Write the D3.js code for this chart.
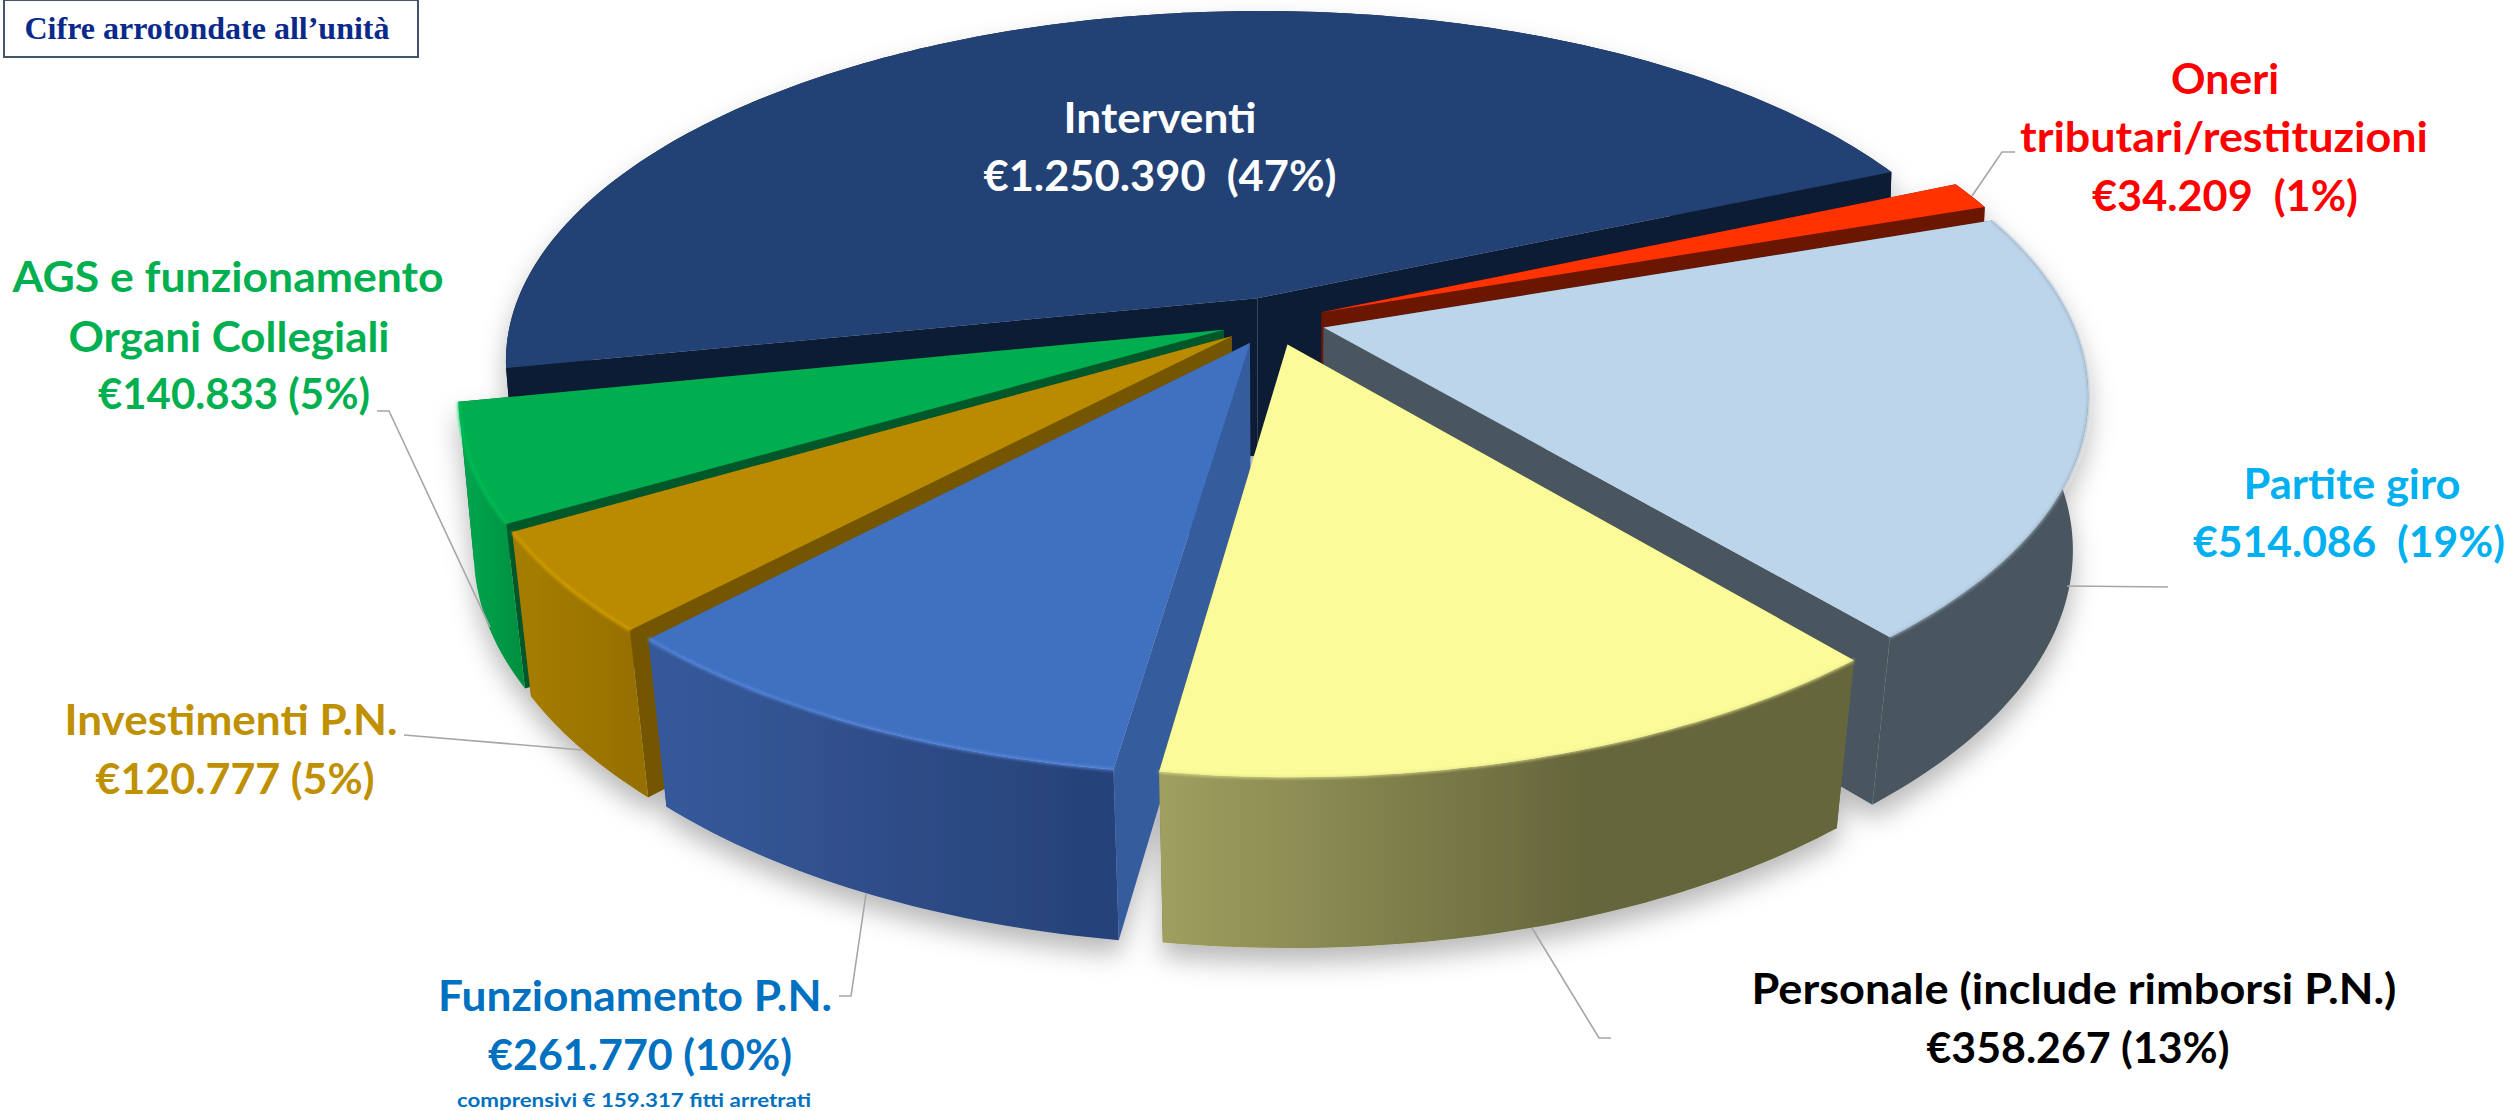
<!DOCTYPE html>
<html>
<head>
<meta charset="utf-8">
<script src="https://cdnjs.cloudflare.com/ajax/libs/d3/7.8.5/d3.min.js"></script>
<style>
  body { margin: 0; background: #fff; }
  text { font-family: Lato, "Noto Sans", sans-serif; font-weight: 700; white-space: pre; text-anchor: middle; }
</style>
</head>
<body>
<div id="chart"></div>
<script>
// data
var categories = ["Interventi", "Oneri tributari/restituzioni", "Partite giro", "Personale (include rimborsi P.N.)", "Funzionamento P.N.", "Investimenti P.N.", "AGS e funzionamento Organi Collegiali"]
var values = [1250390, 34209, 514086, 358267, 261770, 120777, 140833]

// colours, same order as categories
var topColors = ["#244275", "#ff3300", "#bcd5ea", "#fbfb99", "#4170c0", "#ba8b00", "#00ae4f"]
var cutColors = ["#101d36", "#6a1500", "#4a5760", "#66663c", "#355d9e", "#745700", "#00592a"]
var wallFrom = ["#101d36", "#6a1500", "#4a5760", "#9f9f60", "#36599a", "#a47c00", "#00a34c"]
var wallTo = ["#101d36", "#6a1500", "#4a5760", "#66663c", "#28437a", "#967000", "#009040"]
var wallStop = [1, 1, 1, 0.62, 0.9, 0.9, 0.9]
var rimColors = [null, null, "#a3b7ca", "#e8e88e", "#5f90e8", "#e0a800", "#00c85c"]
var textColors = ["#ffffff", "#ff0000", "#00b0f0", "#000000", "#0070c0", "#bf9000", "#00b050"]

// painter order, back to front
var drawOrder = [0, 1, 6, 5, 2, 4, 3]

var width = 2517
var height = 1111

// camera of the 3D pie
var cx = 1273
var cy = 321
var radius = 748
var tilt = 0.4625
var persp = 0.1786
var explode = 0.07
var taper = 0.028

var euro = d3.formatLocale({ decimal: ",", thousands: ".", grouping: [3], currency: ["€", ""] }).format("$,")
var total = d3.sum(values)
function money(i) { return euro(values[i]) }
function pct(i) { return "(" + Math.round(values[i] / total * 100) + "%)" }

var pie = d3.pie().sort(null).startAngle(-101.5 * Math.PI / 180).endAngle((360 - 101.5) * Math.PI / 180)
var arcs = pie(values)

// world (u, v) on the pie plane, z 0 = top face, 1 = bottom face
function project(u, v, z) {
  var w = 1 - persp * v
  return [
    cx + radius * u / w * (1 - taper * (0.55 + 0.6 * v) * z),
    cy + radius * tilt * v / w + z * (158 + 12 * v)
  ]
}

function slicePoint(d, r, a, z) {
  var mid = (d.startAngle + d.endAngle) / 2
  var u = explode * Math.sin(mid) + r * Math.sin(a)
  var v = -explode * Math.cos(mid) - r * Math.cos(a)
  return project(u, v, z)
}

function arcPoints(d, z) {
  var n = Math.ceil((d.endAngle - d.startAngle) * 60)
  return d3.range(n + 1).map(function(i) {
    var a = d.startAngle + (d.endAngle - d.startAngle) * i / n
    return slicePoint(d, 1, a, z)
  })
}

var line = d3.line()
var svg = d3.select("#chart").append("svg").attr("width", width).attr("height", height)
var defs = svg.append("defs")

var shadow = defs.append("filter").attr("id", "shadow").attr("filterUnits", "userSpaceOnUse")
  .attr("x", 0).attr("y", 0).attr("width", width).attr("height", height)
shadow.append("feDropShadow").attr("dx", 0).attr("dy", 14).attr("stdDeviation", 13)
  .attr("flood-color", "#000").attr("flood-opacity", 0.28)

var blur = defs.append("filter").attr("id", "soft")
  .attr("filterUnits", "userSpaceOnUse").attr("x", 0).attr("y", 0).attr("width", width).attr("height", height)
blur.append("feGaussianBlur").attr("stdDeviation", 1.6)

arcs.forEach(function(d, i) {
  var pts = arcPoints(d, 1)
  var grad = defs.append("linearGradient").attr("id", "wall" + i).attr("gradientUnits", "userSpaceOnUse")
    .attr("x1", d3.min(pts, function(p) { return p[0] })).attr("x2", d3.max(pts, function(p) { return p[0] }))
    .attr("y1", 0).attr("y2", 0)
  grad.append("stop").attr("offset", 0).attr("stop-color", wallFrom[i])
  grad.append("stop").attr("offset", wallStop[i]).attr("stop-color", wallTo[i])
})

var pieGroup = svg.append("g").attr("filter", "url(#shadow)")

drawOrder.forEach(function(i) {
  var d = arcs[i]
  var g = pieGroup.append("g").attr("class", "slice")
  var topArc = arcPoints(d, 0)
  var botArc = arcPoints(d, 1)
  var apexTop = slicePoint(d, 0, 0, 0)
  var apexBot = slicePoint(d, 0, 0, 1)

  // cut faces
  g.append("path").attr("fill", cutColors[i])
    .attr("d", line([apexTop, topArc[0], botArc[0], apexBot]) + "Z")
  g.append("path").attr("fill", cutColors[i])
    .attr("d", line([apexTop, topArc[topArc.length - 1], botArc[botArc.length - 1], apexBot]) + "Z")
  // outer wall
  g.append("path").attr("fill", "url(#wall" + i + ")")
    .attr("d", line(topArc.concat(botArc.slice().reverse())) + "Z")
  // top face
  g.append("path").attr("fill", topColors[i])
    .attr("d", line([apexTop].concat(topArc)) + "Z")
  if (rimColors[i]) {
    g.append("path").attr("fill", "none").attr("stroke", rimColors[i]).attr("stroke-width", 2)
      .attr("filter", "url(#soft)").attr("d", line(topArc))
  }
})

// leader lines
var leaders = [
  [[2015, 152], [2002, 152], [1972, 196]],
  [[2168, 587], [2067, 586]],
  [[1532, 928], [1599, 1038], [1611, 1038]],
  [[866, 894], [851, 996], [839, 996]],
  [[404, 735], [583, 750]],
  [[377, 411], [389, 411], [490, 627]]
]
svg.append("g").selectAll("path").data(leaders).enter().append("path")
  .attr("fill", "none").attr("stroke", "#a6a6a6").attr("stroke-width", 1.6)
  .attr("d", function(d) { return line(d) })

// labels: x, baseline, text, width on the page
var labels = [
  { i: 0, lines: [[1160, 133, categories[0], 193], [1160, 191, money(0) + "  " + pct(0), 353]] },
  { i: 1, lines: [[2225, 94, "Oneri", 108], [2224, 152, "tributari/restituzioni", 408], [2225, 211, money(1) + "  " + pct(1), 266]] },
  { i: 2, lines: [[2352, 499, categories[2], 217], [2349, 557, money(2) + "  " + pct(2), 312]] },
  { i: 3, lines: [[2074, 1004, categories[3], 645], [2078, 1063, money(3) + " " + pct(3), 303]] },
  { i: 4, lines: [[635, 1011, categories[4], 394], [640, 1070, money(4) + " " + pct(4), 304]] },
  { i: 5, lines: [[231, 735, categories[5], 333], [235, 794, money(5) + " " + pct(5), 279]] },
  { i: 6, lines: [[228, 292, "AGS e funzionamento", 431], [229, 352, "Organi Collegiali", 321], [234, 409, money(6) + " " + pct(6), 272]] }
]
labels.forEach(function(l) {
  svg.append("g").selectAll("text").data(l.lines).enter().append("text")
    .attr("x", function(d) { return d[0] }).attr("y", function(d) { return d[1] })
    .attr("fill", textColors[l.i]).attr("font-size", 42)
    .attr("textLength", function(d) { return d[3] }).attr("lengthAdjust", "spacingAndGlyphs")
    .text(function(d) { return d[2] })
})
svg.append("text").attr("x", 634).attr("y", 1107).attr("fill", textColors[4]).attr("font-size", 19)
  .attr("textLength", 354).attr("lengthAdjust", "spacingAndGlyphs")
  .text("comprensivi € 159.317 fitti arretrati")

// note box
svg.append("rect").attr("x", 4).attr("y", 0).attr("width", 414).attr("height", 57)
  .attr("fill", "#fff").attr("stroke", "#44546a").attr("stroke-width", 2)
svg.append("text").attr("x", 207).attr("y", 39).attr("fill", "#0a2a8a").attr("font-size", 32)
  .style("font-family", "'Liberation Serif', serif").text("Cifre arrotondate all’unità")
</script>
</body>
</html>
